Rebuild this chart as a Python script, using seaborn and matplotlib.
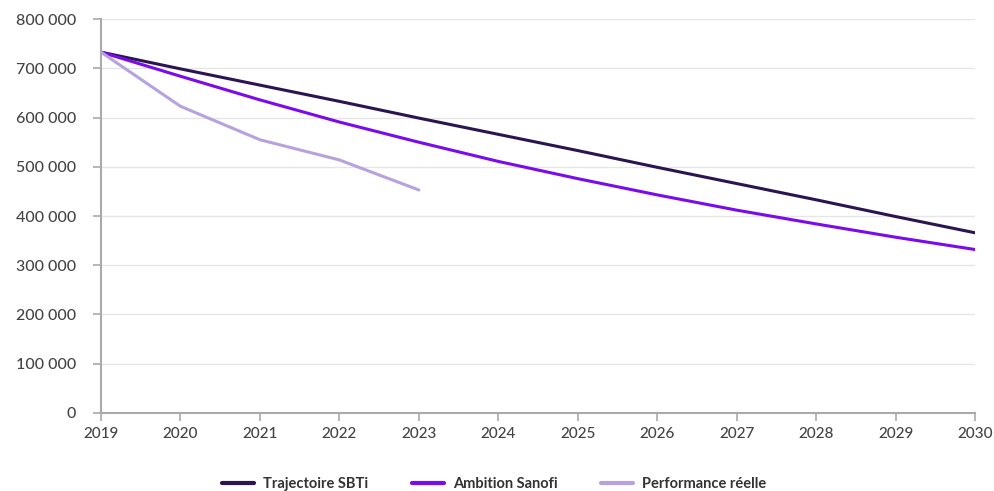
import pandas as pd
import matplotlib.pyplot as plt
import matplotlib.ticker as mticker
import seaborn as sns

years = list(range(2019, 2031))
sbti = [733000, 699000, 666000, 633000, 599000, 566000, 533000, 499000, 466000, 433000, 399000, 366000]
ambition = [733000, 684000, 636000, 591000, 550000, 511000, 476000, 443000, 412000, 384000, 357000, 332000]
perf_years = [2019, 2020, 2021, 2022, 2023]
perf = [733000, 623000, 555000, 514000, 453000]

df = pd.concat([
    pd.DataFrame({"year": years, "value": sbti, "serie": "Trajectoire SBTi"}),
    pd.DataFrame({"year": years, "value": ambition, "serie": "Ambition Sanofi"}),
    pd.DataFrame({"year": perf_years, "value": perf, "serie": "Performance réelle"}),
])

sns.set_theme(style="white")
plt.rcParams['font.family'] = ['Lato', 'DejaVu Sans']

fig = plt.figure(figsize=(9.94, 4.91), dpi=100)
ax = fig.add_axes([0.1016, 0.159, 0.8793, 0.802])

palette = {"Trajectoire SBTi": "#2b1550", "Ambition Sanofi": "#7a0bec", "Performance réelle": "#b8a2de"}
sns.lineplot(data=df, x="year", y="value", hue="serie", palette=palette, linewidth=2.2, ax=ax)

ax.set_xlim(2019, 2030)
ax.set_ylim(0, 800000)
ax.set_xticks(years)
ax.set_yticks(range(0, 800001, 100000))
ax.yaxis.set_major_formatter(mticker.FuncFormatter(lambda v, p: f"{int(v):,}".replace(",", " ")))
ax.yaxis.grid(True, color="#e6e6e6", linewidth=1)
ax.set_axisbelow(True)
ax.set_xlabel("")
ax.set_ylabel("")

for side in ["top", "right"]:
    ax.spines[side].set_visible(False)
for side in ["left", "bottom"]:
    ax.spines[side].set_color("#aaaaaa")
    ax.spines[side].set_linewidth(1.5)
ax.tick_params(axis="both", which="both", length=6, width=1.2, color="#aaaaaa",
               labelsize=11.5, labelcolor="#444444", left=True, bottom=True)
ax.tick_params(axis="y", pad=12)
ax.tick_params(axis="x", pad=4, labelsize=11)
for lbl in ax.get_xticklabels() + ax.get_yticklabels():
    lbl.set_fontweight("medium")

handles, labels = ax.get_legend_handles_labels()
for h in handles:
    h.set_linewidth(3)
ax.legend(handles, labels, loc="upper center", bbox_to_anchor=(0.45, -0.13), ncol=3,
          frameon=False, handlelength=2.2, handletextpad=0.6, columnspacing=3,
          prop={"weight": "bold", "size": 10.5})
for t in ax.get_legend().get_texts():
    t.set_color("#333333")

fig.savefig("out.png", dpi=100)
